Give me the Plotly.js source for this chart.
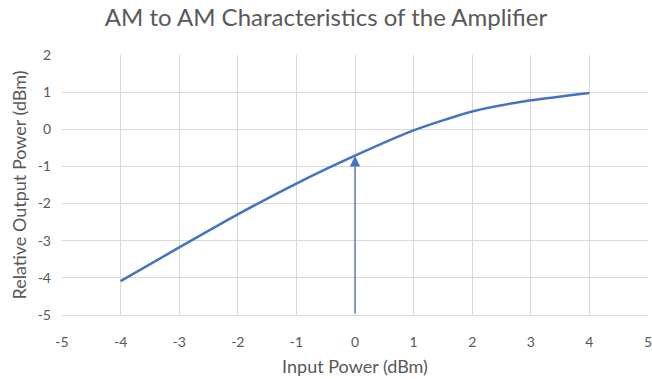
<!DOCTYPE html>
<html>
<head>
<meta charset="utf-8">
<script src="https://cdn.plot.ly/plotly-3.0.1.min.js"></script>
<style>html,body{margin:0;padding:0;background:#fff;}#chart{width:652px;height:379px;}</style>
</head>
<body>
<div id="chart"></div>
<script>
var inputPower = [-4, -3, -2, -1, 0, 1, 2, 3, 4];
var outputPower = [-4.09, -3.18, -2.29, -1.46, -0.71, -0.03, 0.48, 0.78, 0.98];
var arrowX = 0;
var arrowTipY = -0.72;
var arrowBaseY = -5;
var xTickVals = [-5, -4, -3, -2, -1, 0, 1, 2, 3, 4, 5];
var xTickText = ['-5', '-4', '-3', '-2', '-1', '0', '1', '2', '3', '4', '5'];
var yTickVals = [-5, -4, -3, -2, -1, 0, 1, 2];
var yTickText = ['-5', '-4', '-3', '-2', '-1', '0', '1', '2'];

var grey = '#595959';
var font = 'Lato, Open Sans, sans-serif';

var trace = {
  x: inputPower, y: outputPower, type: 'scatter', mode: 'lines',
  line: {color: '#4472C4', width: 2.5, shape: 'spline', smoothing: 0.6},
  hoverinfo: 'skip'
};

var layout = {
  width: 652, height: 379,
  margin: {l: 62, r: 4, t: 55, b: 64},
  paper_bgcolor: '#fff', plot_bgcolor: '#fff',
  showlegend: false,
  title: {text: 'AM to AM Characteristics of the Amplifier', font: {family: font, size: 24, color: grey}, x: 0.5, xanchor: 'center', y: 0.975, yanchor: 'top'},
  xaxis: {
    range: [-5, 5], tickmode: 'array', tickvals: xTickVals, ticktext: xTickText,
    showgrid: true, gridcolor: '#d9d9d9', gridwidth: 1,
    zeroline: false, showline: true, linecolor: '#d9d9d9', ticks: '', ticklabelstandoff: 14,
    ticklabeloverflow: 'allow',
    tickfont: {family: font, size: 14, color: grey},
    title: {text: 'Input Power (dBm)', font: {family: font, size: 18, color: grey}, standoff: 11}
  },
  yaxis: {
    range: [-5, 2], tickmode: 'array', tickvals: yTickVals, ticktext: yTickText,
    showgrid: true, gridcolor: '#d9d9d9', gridwidth: 1,
    zeroline: false, showline: false, ticks: '', ticklabelstandoff: 10,
    tickfont: {family: font, size: 14, color: grey},
    title: {text: 'Relative Output Power (dBm)', font: {family: font, size: 18, color: grey}, standoff: 6}
  },
  annotations: [{
    x: arrowX, y: arrowTipY, ax: arrowX, ay: arrowBaseY,
    xref: 'x', yref: 'y', axref: 'x', ayref: 'y',
    showarrow: true, arrowhead: 2, arrowsize: 1.6, arrowwidth: 1.3, arrowcolor: '#4472C4', text: ''
  }]
};

Plotly.newPlot('chart', [trace], layout, {displayModeBar: false, staticPlot: true});
</script>
</body>
</html>
